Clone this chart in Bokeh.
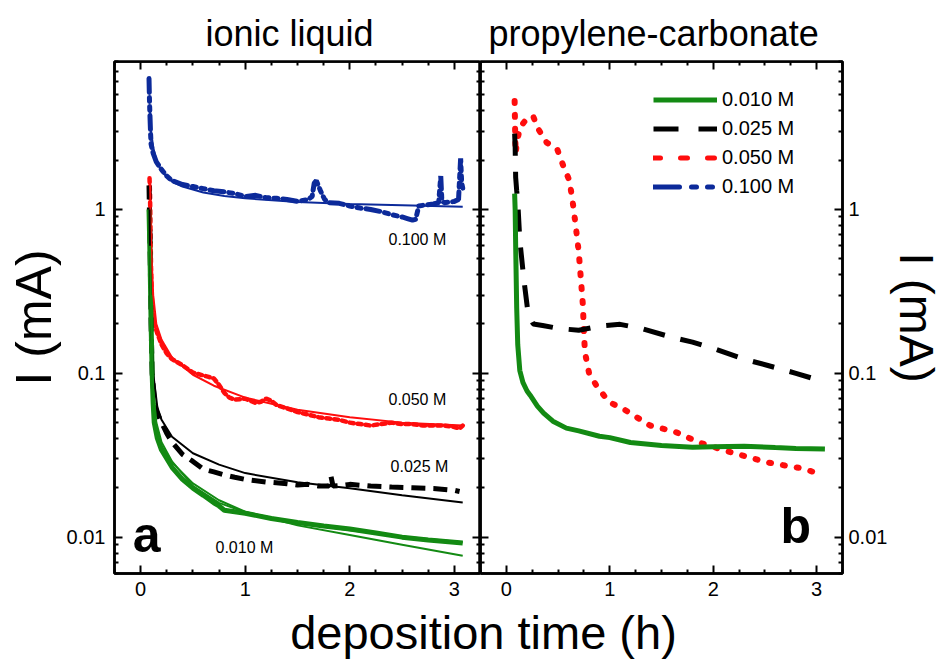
from bokeh.plotting import figure
from bokeh.models import (FixedTicker, LinearAxis, LogAxis, Range1d, Label,
                          Legend, LegendItem)
from bokeh.layouts import row, column
from bokeh.embed import file_html
from bokeh.resources import INLINE

FONT = "Liberation Sans"
NAN = float("nan")

# ---------------- data : panel a (ionic liquid) ----------------
il_010_t = [0.08, 0.09, 0.1, 0.11, 0.12, 0.13, 0.16, 0.2, 0.3, 0.4, 0.5, 0.6, 0.7, 0.75, 0.8, 0.9,
            1.0, 1.25, 1.5, 1.75, 2.0, 2.25, 2.5, 2.75, 3.08]
il_010_i = [1.0, 0.5, 0.2, 0.1, 0.065, 0.05, 0.04, 0.034, 0.0267, 0.0225, 0.0199, 0.018, 0.0162,
            0.0155, 0.0146, 0.0143, 0.014, 0.013, 0.0123, 0.0117, 0.0112, 0.0106, 0.0100, 0.0096, 0.0092]
il_010_fit1_t = [0.09, 0.1, 0.12, 0.15, 0.2, 0.3, 0.5, 0.75, 1.0, 1.5, 2.0, 2.5, 3.08]
il_010_fit1_i = [0.6, 0.2, 0.07, 0.045, 0.036, 0.0286, 0.0213, 0.0168, 0.0143, 0.0118, 0.0103, 0.0090, 0.0077]
il_010_fit2_t = [0.1, 0.12, 0.15, 0.2, 0.3, 0.5, 0.75, 1.0, 1.5, 2.0, 2.5, 3.08]
il_010_fit2_i = [0.3, 0.08, 0.05, 0.038, 0.029, 0.0205, 0.0162, 0.0142, 0.0122, 0.0110, 0.0101, 0.0093]

il_025_t = [0.08, 0.09, 0.1, 0.11, 0.13, 0.15, 0.2, 0.25, 0.3, 0.4, 0.5, 0.6, 0.7, 0.8, 0.9, 1.0,
            1.2, 1.4, 1.5, 1.6, 1.7, 1.8, 1.82, 1.84, 1.9, 2.0, 2.2, 2.4, 2.6, 2.8, 3.0, 3.05]
il_025_i = [1.4, 0.6, 0.2, 0.1, 0.07, 0.059, 0.05, 0.043, 0.038, 0.032, 0.029, 0.026, 0.025, 0.024,
            0.0232, 0.0225, 0.0217, 0.0212, 0.0208, 0.021, 0.0205, 0.0205, 0.0235, 0.0205, 0.0206,
            0.021, 0.0205, 0.0202, 0.02, 0.0198, 0.0193, 0.019]
il_025_fit_t = [0.085, 0.09, 0.1, 0.12, 0.16, 0.2, 0.3, 0.5, 0.75, 1.0, 1.5, 2.0, 2.5, 3.08]
il_025_fit_i = [1.0, 0.5, 0.2, 0.1, 0.062, 0.052, 0.041, 0.0325, 0.0277, 0.0246, 0.0216, 0.0199, 0.018, 0.0163]

il_050_t = [0.085, 0.09, 0.095, 0.1, 0.11, 0.13, 0.16, 0.2, 0.25, 0.3, 0.4, 0.5, 0.6, 0.65, 0.7, 0.75,
            0.8, 0.85, 0.9, 1.0, 1.1, 1.15, 1.2, 1.25, 1.3, 1.4, 1.5, 1.6, 1.7, 1.8, 1.9, 2.0, 2.1,
            2.2, 2.3, 2.4, 2.5, 2.6, 2.7, 2.8, 2.9, 3.0, 3.05, 3.08]
il_050_i = [1.55, 1.2, 0.7, 0.4, 0.25, 0.2, 0.175, 0.15, 0.132, 0.122, 0.112, 0.101, 0.097, 0.095,
            0.093, 0.085, 0.076, 0.071, 0.069, 0.07, 0.066, 0.067, 0.07, 0.068, 0.064, 0.061, 0.058,
            0.056, 0.054, 0.053, 0.052, 0.050, 0.049, 0.048, 0.049, 0.050, 0.049, 0.049, 0.048,
            0.048, 0.048, 0.047, 0.046, 0.048]
il_050_fit_t = [0.09, 0.1, 0.12, 0.15, 0.2, 0.3, 0.5, 0.7, 1.0, 1.5, 2.0, 2.5, 3.08]
il_050_fit_i = [1.5, 0.6, 0.3, 0.2, 0.16, 0.125, 0.098, 0.084, 0.071, 0.06, 0.054, 0.05, 0.048]

il_100_t = [0.08, 0.085, 0.09, 0.095, 0.10, 0.12, 0.15, 0.2, 0.25, 0.3, 0.4, 0.5, 0.6, 0.7, 0.8, 0.9,
            1.0, 1.1, 1.2, 1.3, 1.4, 1.5, 1.6, 1.64, 1.66, 1.68, 1.72, 1.76, 1.8, 1.9, 2.0, 2.1, 2.2,
            2.3, 2.4, 2.5, 2.55, 2.6, 2.63, 2.66, 2.7, 2.8, 2.85, 2.87, 2.88, 2.9, 3.0, 3.04, 3.06,
            3.07, 3.08]
il_100_i = [6.3, 4.5, 3.6, 2.9, 2.5, 2.2, 1.95, 1.75, 1.6, 1.5, 1.42, 1.38, 1.34, 1.3, 1.28, 1.25,
            1.2, 1.22, 1.18, 1.17, 1.15, 1.12, 1.15, 1.2, 1.45, 1.5, 1.3, 1.15, 1.1, 1.09, 1.05,
            1.02, 1.0, 0.97, 0.93, 0.9, 0.88, 0.86, 0.87, 1.05, 1.06, 1.08, 1.1, 1.6, 1.15, 1.1,
            1.12, 1.15, 2.05, 1.45, 1.35]
il_100_fit_t = [0.09, 0.1, 0.12, 0.15, 0.2, 0.3, 0.4, 0.6, 0.8, 1.0, 1.5, 2.0, 2.5, 3.08]
il_100_fit_i = [4.0, 3.0, 2.4, 2.0, 1.7, 1.48, 1.38, 1.27, 1.21, 1.17, 1.11, 1.08, 1.06, 1.04]

# ---------------- data : panel b (propylene carbonate) ----------------
pc_010_t = [0.08, 0.085, 0.09, 0.1, 0.11, 0.13, 0.16, 0.2, 0.23, 0.3, 0.36, 0.45, 0.58, 0.7, 0.9,
            1.0, 1.2, 1.5, 1.8, 2.0, 2.3, 2.6, 2.8, 3.08]
pc_010_i = [1.25, 1.0, 0.6, 0.25, 0.15, 0.104, 0.088, 0.078, 0.0735, 0.063, 0.0571, 0.051, 0.0463,
            0.0445, 0.0413, 0.0405, 0.0378, 0.0363, 0.0354, 0.0356, 0.0359, 0.0352, 0.0348, 0.0345]
pc_025_t = [0.08, 0.085, 0.09, 0.1, 0.11, 0.13, 0.17, 0.21, 0.26, 0.35, 0.5, 0.7, 0.9, 1.1, 1.3,
            1.6, 1.8, 2.0, 2.3, 2.52, 2.8, 3.09]
pc_025_i = [2.9, 2.4, 1.57, 1.3, 1.13, 0.65, 0.37, 0.232, 0.2, 0.196, 0.188, 0.183, 0.194, 0.199,
            0.188, 0.166, 0.155, 0.142, 0.122, 0.112, 0.1, 0.088]
pc_050_t = [0.08, 0.085, 0.09, 0.1, 0.13, 0.2, 0.26, 0.3, 0.39, 0.49, 0.55, 0.61, 0.64, 0.67, 0.7,
            0.72, 0.74, 0.75, 0.76, 0.8, 0.87, 0.99, 1.15, 1.39, 1.63, 1.88, 2.17, 2.52, 2.84, 3.05]
pc_050_i = [4.6, 3.0, 2.2, 2.5, 3.16, 3.6, 3.7, 3.16, 2.56, 2.35, 1.85, 1.5, 1.13, 0.8, 0.55, 0.38,
            0.26, 0.178, 0.134, 0.1, 0.0843, 0.067, 0.0596, 0.048, 0.044, 0.0375, 0.033, 0.0286,
            0.0264, 0.0242]

# ---------------- labels / ticks ----------------
series_labels = ["0.010 M", "0.025 M", "0.050 M", "0.100 M"]
panel_titles = ["ionic liquid", "propylene-carbonate"]
panel_letters = ["a", "b"]
x_label = "deposition time (h)"
y_label = "I (mA)"
x_major = [0, 1, 2, 3]
x_minor = [-0.25, 0.25, 0.5, 0.75, 1.25, 1.5, 1.75, 2.25, 2.5, 2.75, 3.25]
y_major = [0.01, 0.1, 1]
y_major_labels = {0.01: "0.01", 0.1: "0.1", 1: "1"}
y_minor = [0.006, 0.007, 0.008, 0.009, 0.02, 0.03, 0.04, 0.05, 0.06, 0.07, 0.08, 0.09,
           0.2, 0.3, 0.4, 0.5, 0.6, 0.7, 0.8, 0.9, 2, 3, 4, 5, 6, 7, 8]

GREEN = "#138a13"
RED = "#ff0d0d"
BLUE = "#0c2a9a"
BLACK = "#000000"

X0, X1 = -0.25, 3.25
Y0, Y1 = 0.006, 8.0
PANEL_H = 605
LABEL_H = 661 - PANEL_H


def style_axis(ax, is_x, labels=True):
    ax.ticker = FixedTicker(ticks=x_major if is_x else y_major,
                            minor_ticks=x_minor if is_x else y_minor)
    ax.major_tick_in = 8
    ax.major_tick_out = 0
    ax.minor_tick_in = 4
    ax.minor_tick_out = 0
    ax.major_tick_line_width = 2
    ax.minor_tick_line_width = 2
    ax.axis_line_width = 2.5
    ax.major_tick_line_color = "black"
    ax.minor_tick_line_color = "black"
    ax.major_label_text_font = FONT
    ax.major_label_text_font_size = "20px"
    ax.major_label_text_color = "black"
    ax.axis_label_text_font = FONT
    ax.axis_label_text_font_style = "normal"
    ax.axis_label_text_font_size = "48px"
    ax.axis_label_text_color = "black"
    if not is_x:
        ax.major_label_overrides = y_major_labels
    if not labels:
        ax.major_label_text_font_size = "0px"
        ax.major_label_text_alpha = 0


def make_fig(width, left, right, y_loc, title, title_offset):
    p = figure(width=width, height=PANEL_H, x_range=Range1d(X0, X1), y_range=Range1d(Y0, Y1),
               y_axis_type="log", y_axis_location=y_loc, output_backend="svg",
               toolbar_location=None, min_border_left=left, min_border_right=right,
               min_border_top=61, min_border_bottom=PANEL_H - 573, title=title)
    p.title.align = "left"
    p.title.offset = title_offset
    p.title.standoff = 16
    p.title.text_font = FONT
    p.title.text_font_size = "36px"
    p.title.text_font_style = "normal"
    p.title.text_color = "black"
    p.xgrid.visible = False
    p.ygrid.visible = False
    p.outline_line_color = "black"
    p.outline_line_width = 2.5
    p.outline_line_alpha = 1
    p.background_fill_color = "white"
    for ax in p.xaxis:
        style_axis(ax, True)
        ax.major_label_standoff = 8
    for ax in p.yaxis:
        style_axis(ax, False)
    top = LinearAxis(fixed_location=Y1)
    style_axis(top, True, labels=False)
    p.add_layout(top, "above")
    return p


def note(p, txt, xx, yy, size, bold=False):
    p.add_layout(Label(x=xx, y=yy, text=txt, text_font=FONT, text_font_size=size,
                       text_color="black", text_font_style="bold" if bold else "normal",
                       text_baseline="middle", text_align="left"))


# ---------------- panel a ----------------
pa = make_fig(480, 114, 0, "left", panel_titles[0], 91)
pa.yaxis[0].axis_label = y_label
pa.yaxis[0].axis_label_text_font_size = "50px"
pa.yaxis[0].axis_label_standoff = 2
pa.yaxis[0].major_label_standoff = 9
mirror_r = LogAxis(fixed_location=X1)
style_axis(mirror_r, False, labels=False)
pa.add_layout(mirror_r, "right")

pa.line(il_100_t, il_100_i, line_color=BLUE, line_width=5, line_dash="14 5 4 5 4 5", line_cap="round")
pa.line(il_050_t, il_050_i, line_color=RED, line_width=4.5, line_dash="4 4", line_cap="round")
pa.line(il_025_t, il_025_i, line_color=BLACK, line_width=5, line_dash="14 8")
pa.line(il_010_t, il_010_i, line_color=GREEN, line_width=5)
pa.line(il_100_fit_t, il_100_fit_i, line_color=BLUE, line_width=2)
pa.line(il_050_fit_t, il_050_fit_i, line_color=RED, line_width=2)
pa.line(il_025_fit_t, il_025_fit_i, line_color=BLACK, line_width=2)
pa.line(il_010_fit1_t, il_010_fit1_i, line_color=GREEN, line_width=2)
pa.line(il_010_fit2_t, il_010_fit2_i, line_color=GREEN, line_width=2)

note(pa, series_labels[3], 2.37, 0.656, "16px")
note(pa, series_labels[2], 2.37, 0.0694, "16px")
note(pa, series_labels[1], 2.39, 0.0271, "16px")
note(pa, series_labels[0], 0.716, 0.00863, "16px")
note(pa, panel_letters[0], -0.076, 0.01035, "50px", bold=True)

# ---------------- panel b ----------------
pb = make_fig(466, 0, 99, "right", panel_titles[1], 8)
pb.yaxis[0].axis_label = y_label
pb.yaxis[0].axis_label_standoff = 0
pb.yaxis[0].major_label_standoff = 6
mirror_l = LogAxis(fixed_location=X0)
style_axis(mirror_l, False, labels=False)
pb.add_layout(mirror_l, "left")

pb.line(pc_050_t, pc_050_i, line_color=RED, line_width=6, line_dash="2 12", line_cap="round")
pb.line(pc_025_t, pc_025_i, line_color=BLACK, line_width=5, line_dash="22 16")
pb.line(pc_010_t, pc_010_i, line_color=GREEN, line_width=5)

# legend swatches (single NaN point: nothing drawn in the plot area)
lg_green = pb.line([NAN], [NAN], line_color=GREEN, line_width=5)
lg_black = pb.line([NAN], [NAN], line_color=BLACK, line_width=5, line_dash="25 20")
lg_red = pb.line([NAN], [NAN], line_color=RED, line_width=5, line_dash="7 20", line_cap="round")
lg_blue = pb.line([NAN], [NAN], line_color=BLUE, line_width=5, line_dash="26 12 5 11 5 11",
                  line_cap="round")
legend = Legend(items=[LegendItem(label=series_labels[0], renderers=[lg_green]),
                       LegendItem(label=series_labels[1], renderers=[lg_black]),
                       LegendItem(label=series_labels[2], renderers=[lg_red]),
                       LegendItem(label=series_labels[3], renderers=[lg_blue])],
                location=(173, 372), glyph_width=64, glyph_height=29, label_height=29,
                spacing=0, padding=0, margin=0, label_standoff=5,
                label_text_font=FONT, label_text_font_size="20px", label_text_color="black",
                border_line_color=None, background_fill_alpha=0)
pb.add_layout(legend)
note(pb, panel_letters[1], 2.65, 0.01175, "50px", bold=True)

# ---------------- shared x label ----------------
pl = figure(width=946, height=LABEL_H, x_range=Range1d(0, 946), y_range=Range1d(0, LABEL_H),
            toolbar_location=None, output_backend="svg", min_border=0,
            x_axis_location=None, y_axis_location=None, title=None)
pl.outline_line_color = None
pl.xgrid.visible = False
pl.ygrid.visible = False
pl.add_layout(Label(x=483, y=LABEL_H - (632 - PANEL_H), text=x_label, text_align="center",
                    text_baseline="middle", text_font=FONT, text_font_size="47px",
                    text_color="black"))

layout = column(row(pa, pb), pl)
open("out.html", "w").write(file_html(layout, INLINE))
